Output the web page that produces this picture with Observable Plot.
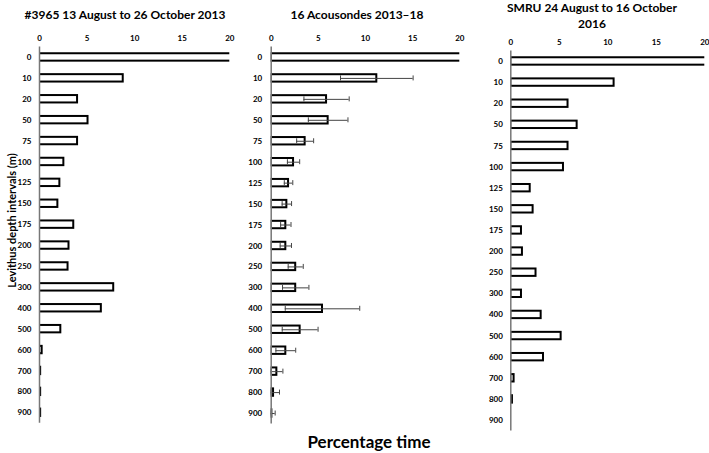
<!DOCTYPE html>
<html>
<head>
<meta charset="utf-8">
<script src="https://cdn.jsdelivr.net/npm/d3@7"></script>
<script src="https://cdn.jsdelivr.net/npm/@observablehq/plot@0.6"></script>
<style>
  body { margin: 0; background: #fff; }
  #wrap { position: relative; width: 709px; height: 453px; overflow: hidden; font-family: Lato, "Open Sans", sans-serif; }
  .panel { position: absolute; top: 0; }
  .t { position: absolute; text-align: center; font-weight: bold; color: #000; white-space: nowrap; }
</style>
</head>
<body>
<div id="wrap"></div>
<script>
const depths = ["0","10","20","50","75","100","125","150","175","200","250","300","400","500","600","700","800","900"];
const xTicks = [0, 5, 10, 15, 20];

const titles = ["#3965 13 August to 26 October 2013", "16 Acousondes 2013\u201318", "SMRU 24 August to 16 October", "2016"];
const yTitle = "Levithus depth intervals (m)";
const xTitle = "Percentage time";

// Panel 1: #3965 (0 m bar runs off the 20% axis)
const tag3965 = [45, 8.8, 4.0, 5.1, 4.0, 2.56, 2.14, 1.93, 3.6, 3.1, 3.0, 7.8, 6.5, 2.24, 0.28, 0.12, 0.12, 0.12];
// Panel 2: 16 Acousondes, mean and +/- error
const acousondes = [40, 11.2, 5.87, 6.04, 3.6, 2.37, 1.84, 1.66, 1.55, 1.55, 2.6, 2.6, 5.44, 3.07, 1.55, 0.6, 0.25, 0.07];
const acousondesErr = [null, 3.85, 2.4, 2.1, 0.9, 0.65, 0.45, 0.5, 0.55, 0.6, 0.8, 1.4, 3.95, 1.9, 1.05, 0.64, 0.63, 0.35];
// Panel 3: SMRU
const smru = [40, 10.65, 5.9, 6.84, 5.9, 5.43, 2.0, 2.3, 1.1, 1.2, 2.6, 1.1, 3.13, 5.19, 3.37, 0.34, 0.17, 0];

const wrap = document.getElementById("wrap");

function panel({values, errs, left, width, mLeft, mRight, mTop, mBottom, ypad, xpad}) {
  const rows = depths.map((d, i) => ({d, v: values[i], e: errs ? errs[i] : null}));
  const step = (453 - mTop - mBottom) / depths.length;
  const inset = (step - 7.4) / 2;
  const capInset = (step - 5) / 2;
  const marks = [
    Plot.barX(rows, {x: "v", y: "d", fill: "white", stroke: "black", strokeWidth: 2, insetTop: inset, insetBottom: inset, clip: true})
  ];
  if (errs) {
    const er = rows.filter(r => r.e != null);
    marks.push(Plot.ruleY(er, {y: "d", x1: r => Math.max(0, r.v - r.e), x2: r => r.v + r.e, stroke: "#444", strokeWidth: 1}));
    marks.push(Plot.tickX(er, {y: "d", x: r => Math.max(0, r.v - r.e), stroke: "#444", strokeWidth: 1, insetTop: capInset, insetBottom: capInset}));
    marks.push(Plot.tickX(er, {y: "d", x: r => r.v + r.e, stroke: "#444", strokeWidth: 1, insetTop: capInset, insetBottom: capInset}));
  }
  marks.push(Plot.ruleX([0], {stroke: "#777", strokeWidth: 1.5}));
  const svg = Plot.plot({
    width, height: 453,
    marginLeft: mLeft, marginRight: mRight, marginTop: mTop, marginBottom: mBottom,
    style: {fontFamily: "Lato, sans-serif", fontSize: "8px", fontWeight: "bold", background: "transparent", color: "#000", overflow: "visible"},
    x: {domain: [0, 20], ticks: xTicks, axis: "top", tickSize: 0, tickPadding: xpad, label: null},
    y: {domain: depths, padding: 0, round: false, tickSize: 0, tickPadding: ypad, label: null},
    marks
  });
  const div = document.createElement("div");
  div.className = "panel";
  div.style.left = left + "px";
  div.appendChild(svg);
  wrap.appendChild(div);
}

panel({values: tag3965, errs: null, left: 0, width: 240, mLeft: 39, mRight: 10.7, mTop: 46.5, mBottom: 30.3, ypad: 8, xpad: 6});
panel({values: acousondes, errs: acousondesErr, left: 230, width: 250, mLeft: 40.7, mRight: 20.7, mTop: 46.5, mBottom: 29.5, ypad: 9, xpad: 6});
panel({values: smru, errs: null, left: 470, width: 239, mLeft: 40.3, mRight: 4.7, mTop: 50.4, mBottom: 22.4, ypad: 8, xpad: 6});

function addText(txt, cx, cy, size, extra) {
  const el = document.createElement("div");
  el.className = "t";
  el.textContent = txt;
  el.style.fontSize = size + "px";
  el.style.lineHeight = (size + 2) + "px";
  el.style.left = (cx - 200) + "px";
  el.style.width = "400px";
  el.style.top = (cy - (size + 2) / 2) + "px";
  if (extra) Object.assign(el.style, extra);
  wrap.appendChild(el);
  return el;
}
addText(titles[0], 125, 15, 12);
addText(titles[1], 357, 15, 12);
addText(titles[2], 592, 7.5, 12);
addText(titles[3], 592, 23.5, 12);
addText(xTitle, 369, 441, 17);
addText(yTitle, 10.5, 220, 11, {transform: "rotate(-90deg)"});
</script>
</body>
</html>
